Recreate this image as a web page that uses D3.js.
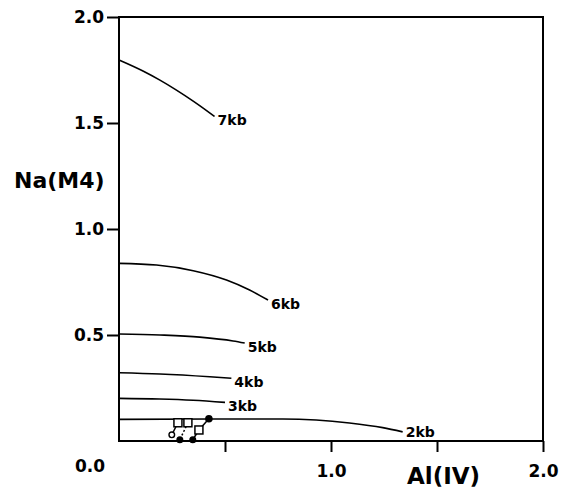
<!DOCTYPE html>
<meta charset="utf-8">
<style>
  body { margin: 0; background: #fff; }
  text { font-family: "DejaVu Sans", "Liberation Sans", Arial, sans-serif; font-weight: bold; fill: #000; }
</style>
<script src="https://d3js.org/d3.v7.min.js"></script>
<div id="chart"></div>
<script>

// isobar labels and the curves (Al(IV) vs Na(M4))
var isobars = ["7kb", "6kb", "5kb", "4kb", "3kb", "2kb"];
var isobarAl = [
  [0, 0.113, 0.193, 0.271, 0.35, 0.397, 0.451],
  [0, 0.177, 0.35, 0.507, 0.616, 0.703],
  [0, 0.193, 0.381, 0.538, 0.593],
  [0, 0.193, 0.428, 0.53],
  [0, 0.19, 0.35, 0.5],
  [0, 0.616, 0.773, 0.93, 1.087, 1.244, 1.338]
];
var isobarNa = [
  [1.797, 1.745, 1.702, 1.655, 1.603, 1.57, 1.531],
  [0.838, 0.83, 0.803, 0.759, 0.712, 0.665],
  [0.505, 0.5, 0.49, 0.472, 0.462],
  [0.322, 0.316, 0.303, 0.296],
  [0.201, 0.198, 0.192, 0.182],
  [0.102, 0.104, 0.104, 0.099, 0.085, 0.063, 0.043]
];

// amphibole analyses: cores (squares) and their rims (small circles)
var coreAl = [0.278, 0.325, 0.377];
var coreNa = [0.086, 0.086, 0.052];
var rimAl = [0.249, 0.287, 0.348];
var rimNa = [0.029, 0.006, 0.006];
var dotAl = [0.424];
var dotNa = [0.105];

var yTicks = [0.5, 1.0, 1.5, 2.0];
var xTicks = [0.5, 1.0, 1.5, 2.0];

var width = 575, height = 489;

var svg = d3.select("#chart").append("svg")
    .attr("width", width)
    .attr("height", height);

var x = d3.scaleLinear().domain([0, 2]).range([119, 543]);
var y = d3.scaleLinear().domain([0, 2]).range([441, 17]);

// frame
svg.append("rect")
  .attr("x", x(0)).attr("y", y(2))
  .attr("width", x(2) - x(0)).attr("height", y(0) - y(2))
  .attr("fill", "none").attr("stroke", "#000").attr("stroke-width", 2);

// y axis
var yAxis = svg.append("g")
  .attr("transform", "translate(" + x(0) + ",0)")
  .call(d3.axisLeft(y).tickValues(yTicks).tickSize(12).tickPadding(3)
        .tickFormat(d3.format(".1f")));
yAxis.select(".domain").remove();
yAxis.selectAll(".tick line").attr("stroke-width", 2);
yAxis.selectAll(".tick text").style("font-size", "17px");

// x axis
var xAxis = svg.append("g")
  .attr("transform", "translate(0," + y(0) + ")")
  .call(d3.axisBottom(x).tickValues(xTicks).tickSize(11).tickPadding(13)
        .tickFormat(function(d) { return d % 1 === 0 ? d3.format(".1f")(d) : ""; }));
xAxis.select(".domain").remove();
xAxis.selectAll(".tick line").attr("stroke-width", 2);
xAxis.selectAll(".tick text").style("font-size", "17px");

// origin label
svg.append("text")
  .attr("x", x(0) - 29).attr("y", y(0) + 31)
  .attr("text-anchor", "middle")
  .style("font-size", "17px")
  .text("0.0");

// axis titles
svg.append("text")
  .attr("x", 14).attr("y", 188)
  .style("font-size", "22px")
  .text("Na(M4)");
svg.append("text")
  .attr("x", 407).attr("y", 484)
  .style("font-size", "23px")
  .text("Al(IV)");

// isobars
var line = d3.line()
  .x(function(d) { return x(d[0]); })
  .y(function(d) { return y(d[1]); })
  .curve(d3.curveMonotoneX);

isobars.forEach(function(name, i) {
  var pts = isobarAl[i].map(function(a, j) { return [a, isobarNa[i][j]]; });
  svg.append("path")
    .attr("d", line(pts))
    .attr("fill", "none")
    .attr("stroke", "#000")
    .attr("stroke-width", 1.6);
  var last = pts[pts.length - 1];
  svg.append("text")
    .attr("x", x(last[0]) + 3)
    .attr("y", Math.min(y(last[1]) + 4, y(0) - 9))
    .attr("dy", "0.35em")
    .style("font-size", "14px")
    .text(name);
});

// tie lines core -> rim
coreAl.forEach(function(a, i) {
  svg.append("line")
    .attr("x1", x(a)).attr("y1", y(coreNa[i]))
    .attr("x2", x(rimAl[i])).attr("y2", y(rimNa[i]))
    .attr("stroke", "#000").attr("stroke-width", 1.5)
    .attr("stroke-dasharray", i === 1 ? "2,2" : null);
});
svg.append("line")
  .attr("x1", x(coreAl[2])).attr("y1", y(coreNa[2]))
  .attr("x2", x(dotAl[0])).attr("y2", y(dotNa[0]))
  .attr("stroke", "#000").attr("stroke-width", 1.5);

// cores
svg.selectAll(".core")
  .data(coreAl)
  .enter().append("rect")
    .attr("class", "core")
    .attr("x", function(d) { return x(d) - 4; })
    .attr("y", function(d, i) { return y(coreNa[i]) - 4; })
    .attr("width", 8).attr("height", 8)
    .attr("fill", "#fff").attr("stroke", "#000").attr("stroke-width", 1.5);

// rims
svg.selectAll(".rim")
  .data(rimAl)
  .enter().append("circle")
    .attr("class", "rim")
    .attr("cx", function(d) { return x(d); })
    .attr("cy", function(d, i) { return y(rimNa[i]); })
    .attr("r", 2.8)
    .attr("fill", function(d, i) { return i === 0 ? "#fff" : "#000"; })
    .attr("stroke", "#000").attr("stroke-width", 1.4);

svg.selectAll(".dot")
  .data(dotAl)
  .enter().append("circle")
    .attr("class", "dot")
    .attr("cx", function(d) { return x(d); })
    .attr("cy", function(d, i) { return y(dotNa[i]); })
    .attr("r", 3.8)
    .attr("fill", "#000");

</script>
